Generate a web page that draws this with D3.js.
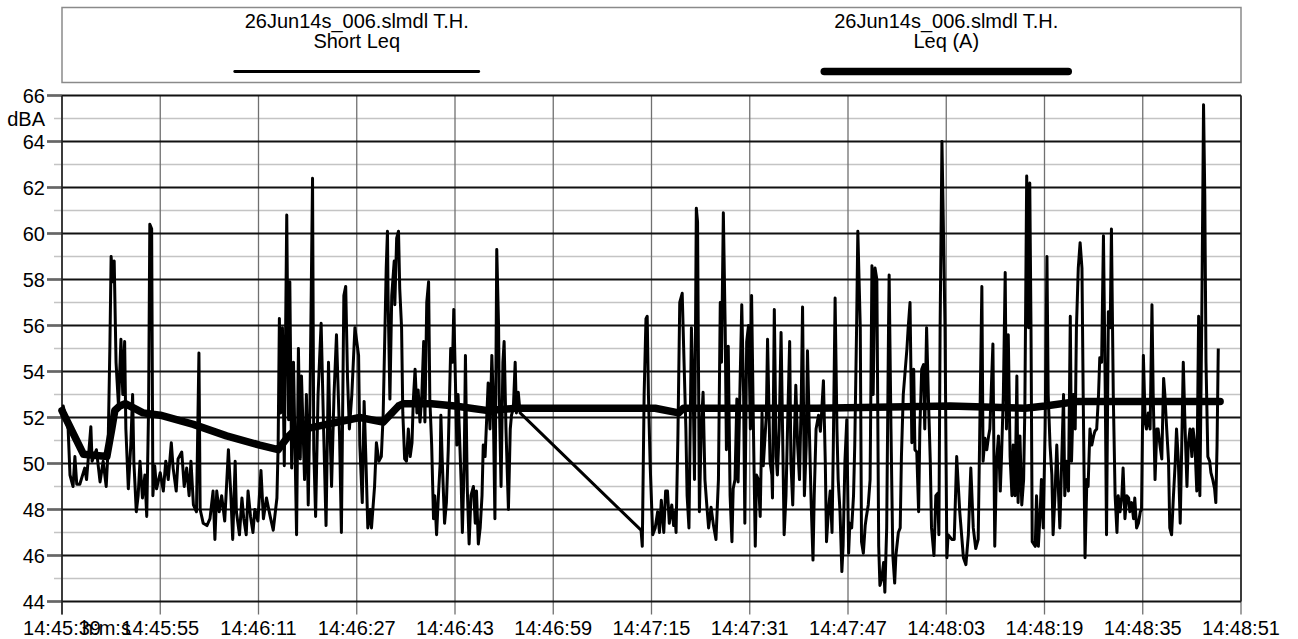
<!DOCTYPE html>
<html>
<head>
<meta charset="utf-8">
<script src="https://cdn.jsdelivr.net/npm/d3@7"></script>
<style>
  body { margin: 0; background: #fff; }
  svg { display: block; font-family: Arial, "Liberation Sans", sans-serif; }
</style>
</head>
<body>
<svg id="chart" width="1298" height="639"></svg>
<script>
// seconds after 14:45:39, Short Leq samples (dBA)
const shortT = [0.0, 0.2, 1.0, 1.3, 1.8, 2.1, 2.4, 2.9, 3.7, 4.0, 4.7, 4.9, 5.6, 6.2, 6.7, 7.2, 7.5, 7.8, 8.0, 8.3,
  8.5, 8.8, 9.2, 9.6, 9.9, 10.2, 10.4, 10.8, 11.2, 11.5, 11.7, 12.1, 12.4, 12.7, 13.1, 13.5, 13.8, 14.1, 14.3, 14.6,
  14.8, 15.1, 15.4, 16.0, 16.5, 16.9, 17.3, 17.8, 18.1, 18.6, 18.9, 19.5, 19.9, 20.3, 20.7, 21.0, 21.4, 21.9, 22.3, 22.5,
  23.0, 23.6, 24.1, 24.6, 24.9, 25.2, 25.6, 26.0, 26.5, 27.1, 27.5, 27.8, 28.2, 28.4, 28.9, 29.3, 29.6, 30.0, 30.3, 30.7,
  31.1, 31.4, 31.9, 32.4, 32.8, 33.3, 33.9, 34.4, 35.0, 35.2, 35.4, 35.6, 35.9, 36.2, 36.6, 36.9, 37.1, 37.4, 37.7, 38.2,
  38.5, 38.8, 39.0, 39.5, 39.8, 40.1, 40.4, 40.8, 41.0, 41.3, 41.7, 42.2, 42.6, 43.0, 43.4, 43.6, 43.9, 44.3, 44.7, 45.2,
  45.5, 45.9, 46.2, 46.5, 46.8, 47.2, 47.7, 48.3, 48.5, 48.9, 49.2, 49.5, 49.8, 50.2, 50.4, 50.9, 51.2, 51.6, 52.0, 52.3,
  52.8, 53.0, 53.1, 53.4, 53.7, 54.1, 54.2, 54.5, 54.8, 55.0, 55.3, 55.5, 55.8, 56.1, 56.4, 56.7, 57.0, 57.2, 57.5, 57.8,
  58.0, 58.3, 58.6, 58.9, 59.1, 59.4, 59.7, 59.9, 60.2, 60.5, 60.7, 61.0, 61.3, 61.6, 61.7, 61.9, 62.3, 62.6, 62.9, 63.3,
  63.6, 63.8, 64.0, 64.3, 64.5, 65.0, 65.2, 65.5, 65.7, 66.0, 66.3, 66.6, 67.0, 67.3, 67.5, 67.8, 68.1, 68.4, 68.6, 68.9,
  69.2, 69.4, 69.7, 70.0, 70.2, 70.5, 70.8, 71.1, 71.2, 71.5, 71.8, 72.0, 72.3, 72.7, 73.0, 73.2, 73.5, 73.8, 74.0, 74.3,
  74.6, 94.3, 94.5, 94.8, 95.1, 95.3, 95.5, 95.8, 96.2, 96.6, 97.0, 97.3, 97.6, 98.0, 98.3, 98.6, 98.9, 99.3, 99.6, 99.8,
  100.0, 100.3, 100.6, 101.0, 101.3, 101.6, 101.8, 102.1, 102.3, 102.5, 102.8, 103.0, 103.3, 103.5, 103.8, 104.1, 104.4, 104.7, 105.0, 105.3,
  105.7, 106.1, 106.5, 106.9, 107.2, 107.4, 107.7, 108.0, 108.2, 108.5, 108.8, 109.1, 109.3, 109.6, 109.9, 110.1, 110.4, 110.7, 111.0, 111.2,
  111.5, 111.8, 112.1, 112.3, 112.6, 112.9, 113.1, 113.4, 113.7, 114.0, 114.2, 114.7, 114.9, 115.3, 115.6, 115.7, 116.0, 116.3, 116.5, 116.8,
  117.1, 117.4, 117.6, 117.9, 118.2, 118.5, 118.7, 119.0, 119.3, 119.5, 119.8, 120.1, 120.4, 120.6, 120.9, 121.2, 121.4, 121.7, 122.0, 122.3,
  122.5, 122.8, 123.2, 123.5, 123.7, 124.0, 124.3, 124.5, 124.8, 125.1, 125.4, 125.6, 125.9, 126.2, 126.4, 126.7, 127.0, 127.2, 127.5, 127.8,
  128.1, 128.3, 128.6, 128.9, 129.1, 129.4, 129.6, 130.0, 130.2, 130.5, 130.8, 131.0, 131.3, 131.6, 131.9, 132.1, 132.4, 132.7, 133.0, 133.2,
  133.5, 133.8, 134.0, 134.3, 134.6, 134.7, 135.0, 135.3, 135.6, 135.8, 136.2, 136.5, 136.7, 137.0, 137.3, 137.6, 137.8, 138.1, 138.4, 138.7,
  138.9, 139.2, 139.5, 139.7, 140.0, 140.3, 140.5, 140.8, 141.1, 141.4, 141.6, 142.0, 142.3, 142.6, 142.8, 143.0, 143.3, 143.5, 143.8, 144.1,
  144.3, 144.9, 145.3, 145.7, 146.2, 146.8, 147.2, 147.6, 148.0, 148.4, 148.8, 149.2, 149.8, 150.0, 150.3, 150.6, 150.9, 151.1, 151.6, 151.9,
  152.2, 152.5, 152.8, 153.0, 153.3, 153.6, 153.8, 154.1, 154.4, 154.7, 154.9, 155.2, 155.5, 155.7, 156.0, 156.3, 156.6, 156.8, 157.1, 157.4,
  157.6, 157.8, 158.0, 158.5, 158.7, 159.0, 159.3, 159.5, 159.8, 160.1, 160.4, 160.6, 160.9, 161.2, 161.4, 161.7, 162.0, 162.3, 162.5, 162.8,
  163.1, 163.3, 163.6, 163.9, 164.2, 164.4, 164.7, 165.0, 165.2, 165.5, 165.8, 166.1, 166.3, 166.6, 166.9, 167.1, 167.4, 167.7, 168.0, 168.2,
  168.5, 168.8, 169.0, 169.3, 169.6, 169.9, 170.1, 170.4, 170.7, 170.9, 171.2, 171.5, 171.8, 172.0, 172.3, 172.6, 172.8, 173.1, 173.4, 173.7,
  173.9, 174.2, 174.5, 174.7, 175.0, 175.3, 175.6, 175.8, 176.1, 176.4, 176.6, 176.9, 177.2, 177.5, 177.7, 178.0, 178.3, 178.5, 178.8, 179.1,
  179.4, 179.6, 179.9, 180.2, 180.4, 180.7, 181.0, 181.3, 181.5, 181.8, 182.1, 182.3, 182.6, 182.9, 183.2, 183.4, 183.7, 184.0, 184.2, 184.5,
  184.8, 185.1, 185.3, 185.6, 185.9, 186.1, 186.3, 186.6, 186.9, 187.1, 187.4, 187.7, 187.9, 188.1, 188.3];
const shortV = [52.0, 52.5, 51.5, 49.5, 49.0, 50.3, 49.1, 49.1, 49.8, 49.3, 51.6, 50.1, 50.6, 49.2, 50.1, 49.0, 50.6, 55.1, 59.0, 57.9,
  58.8, 54.4, 52.5, 55.4, 53.0, 55.3, 51.5, 48.9, 50.8, 53.0, 50.1, 47.9, 48.6, 50.1, 48.5, 49.5, 47.7, 52.4, 60.4, 60.2,
  48.6, 49.9, 48.9, 49.6, 48.8, 50.1, 49.3, 50.9, 49.8, 48.8, 50.2, 50.5, 49.0, 49.8, 48.6, 50.1, 48.2, 47.9, 54.8, 48.0,
  47.4, 47.3, 47.6, 48.8, 46.7, 48.8, 47.9, 48.6, 47.5, 50.6, 48.6, 46.7, 50.1, 47.9, 46.9, 48.5, 47.6, 46.9, 48.8, 47.7,
  47.0, 48.0, 47.5, 49.7, 47.6, 48.5, 47.7, 47.1, 48.5, 50.8, 56.3, 52.2, 55.9, 49.9, 60.8, 51.9, 57.9, 49.8, 54.4, 46.9,
  55.0, 50.2, 53.8, 49.3, 53.0, 48.2, 53.0, 62.4, 50.6, 47.7, 53.0, 56.1, 51.5, 47.3, 54.4, 51.9, 49.0, 53.0, 55.6, 51.2,
  47.0, 57.3, 57.7, 53.7, 51.5, 53.0, 55.9, 54.7, 50.8, 48.3, 52.7, 50.1, 47.2, 48.0, 47.2, 49.0, 50.9, 50.1, 50.3, 52.1,
  58.5, 60.1, 57.3, 52.8, 57.3, 58.8, 56.9, 59.8, 60.1, 57.6, 55.9, 52.2, 50.2, 50.1, 51.5, 50.3, 50.9, 52.7, 54.1, 52.2,
  53.2, 51.8, 53.0, 55.3, 51.8, 57.0, 57.9, 52.8, 50.8, 47.6, 48.6, 46.9, 48.6, 50.1, 52.1, 50.3, 47.4, 48.3, 50.6, 55.0,
  54.4, 56.7, 54.4, 50.8, 53.0, 49.2, 47.0, 50.1, 54.7, 48.9, 46.5, 48.6, 49.0, 47.4, 48.8, 46.5, 47.2, 48.6, 50.8, 50.3,
  52.2, 53.5, 51.5, 54.7, 53.0, 47.6, 59.3, 55.9, 53.0, 49.0, 54.4, 55.3, 51.5, 48.0, 51.5, 52.1, 52.4, 54.4, 52.2, 53.1,
  52.2, 47.1, 46.4, 53.0, 56.3, 56.4, 53.0, 49.8, 46.9, 47.2, 47.9, 47.0, 48.4, 47.0, 48.8, 48.8, 47.4, 48.2, 47.3, 47.9,
  47.0, 51.2, 57.0, 57.4, 54.4, 51.5, 48.6, 47.2, 51.5, 55.9, 53.0, 49.3, 61.1, 60.5, 47.9, 51.5, 53.1, 49.3, 48.2, 47.2,
  48.1, 47.3, 46.7, 49.3, 57.0, 54.4, 60.9, 55.9, 50.6, 55.1, 48.6, 46.6, 48.9, 49.3, 52.8, 49.2, 53.2, 56.9, 53.0, 47.4,
  55.3, 56.0, 51.5, 57.3, 51.5, 46.4, 49.5, 49.3, 47.7, 52.2, 49.9, 52.1, 55.4, 50.1, 49.5, 48.5, 56.7, 50.3, 49.5, 51.5,
  55.7, 50.5, 46.9, 48.6, 52.1, 55.3, 50.1, 48.2, 51.5, 53.4, 50.8, 49.3, 53.0, 56.8, 48.6, 50.8, 54.9, 51.5, 48.3, 45.8,
  48.6, 51.5, 52.1, 51.4, 52.2, 53.6, 50.1, 46.6, 47.9, 48.8, 47.0, 50.6, 57.2, 51.5, 49.3, 47.9, 45.3, 46.4, 50.1, 51.9,
  46.1, 47.4, 47.2, 48.6, 50.8, 55.9, 60.1, 55.9, 46.6, 46.1, 47.3, 47.7, 48.2, 49.3, 58.6, 53.0, 58.5, 58.0, 46.4, 44.7,
  45.0, 45.7, 44.4, 47.2, 55.9, 58.2, 51.5, 46.0, 44.8, 46.0, 47.0, 47.2, 50.3, 53.0, 54.0, 55.0, 55.9, 57.0, 50.9, 54.1,
  50.6, 50.5, 47.9, 51.5, 54.1, 54.3, 51.5, 55.9, 52.8, 50.1, 47.2, 46.0, 48.6, 48.7, 46.9, 55.9, 64.0, 60.8, 55.9, 45.9,
  46.9, 46.7, 46.7, 50.3, 47.9, 45.9, 45.6, 46.9, 49.8, 47.2, 46.3, 46.7, 57.7, 50.1, 51.1, 50.6, 51.2, 51.5, 55.2, 46.4,
  50.1, 51.2, 48.8, 50.3, 53.0, 58.3, 51.5, 55.6, 50.3, 48.6, 50.8, 48.6, 53.8, 48.3, 51.2, 48.2, 49.3, 52.4, 62.5, 55.9,
  62.2, 55.9, 46.6, 46.4, 48.6, 46.4, 47.9, 49.3, 47.2, 51.5, 59.0, 53.0, 50.8, 49.5, 46.9, 48.6, 50.8, 48.6, 47.2, 50.1,
  53.0, 48.6, 50.1, 48.8, 56.4, 50.1, 53.0, 51.5, 55.9, 58.5, 59.6, 58.5, 53.0, 45.9, 49.3, 49.0, 51.5, 50.8, 51.2, 51.4,
  51.5, 53.0, 54.6, 54.4, 59.9, 53.0, 46.9, 56.6, 55.9, 60.2, 53.0, 48.6, 47.0, 48.6, 47.9, 48.6, 49.8, 47.6, 48.6, 48.5,
  47.9, 48.3, 47.6, 48.5, 47.2, 47.4, 47.9, 48.0, 54.7, 51.8, 51.5, 52.2, 51.5, 56.9, 53.0, 49.3, 51.5, 51.5, 50.8, 50.2,
  53.7, 53.0, 51.5, 50.1, 47.2, 46.9, 48.6, 50.1, 51.5, 50.1, 47.4, 50.1, 54.4, 51.5, 49.0, 50.8, 51.5, 50.3, 51.5, 50.8,
  48.8, 56.4, 48.6, 55.9, 65.6, 61.7, 54.4, 50.3, 50.1, 49.6, 49.3, 48.9, 48.3, 50.8, 55.0];

// running Leq (A)
const leqT = [0.0, 3.5, 7.3, 8.1, 8.6, 9.4, 10.3, 13.2, 16.0, 21.4, 26.8, 32.2, 35.2, 36.6, 37.7, 43.1, 48.5, 52.3, 54.8, 55.6,
  60.2, 64.0, 69.4, 73.8, 96.6, 100.4, 101.2, 106.6, 122.9, 144.6, 156.8, 160.1, 165.5, 171.0, 176.4, 185.6, 188.6];
const leqV = [52.3, 50.4, 50.3, 51.5, 52.3, 52.5, 52.6, 52.2, 52.1, 51.7, 51.2, 50.8, 50.6, 51.1, 51.4, 51.7, 52.0, 51.8, 52.5, 52.6,
  52.6, 52.5, 52.3, 52.4, 52.4, 52.2, 52.4, 52.4, 52.4, 52.5, 52.4, 52.5, 52.7, 52.7, 52.7, 52.7, 52.7];

const startTime = '14:45:39';
const spanSec = 192;
const tickStep = 16;
const yMajor = [44, 46, 48, 50, 52, 54, 56, 58, 60, 62, 64, 66];
const yMinor = [45, 47, 49, 51, 53, 55, 57, 59, 61, 63, 65];
const yUnit = 'dBA';
const xUnit = 'h:m:s';
const legendEntries = [
  { name: '26Jun14s_006.slmdl T.H.', series: 'Short Leq', width: 2.8 },
  { name: '26Jun14s_006.slmdl T.H.', series: 'Leq (A)', width: 7.5 },
];

const margin = { left: 62, right: 57, top: 95.5, bottom: 37.5 };
const W = 1298, H = 639;
const iw = W - margin.left - margin.right;
const ih = H - margin.top - margin.bottom;

const parse = d3.timeParse('%H:%M:%S');
const t0 = parse(startTime);
const at = s => new Date(t0.getTime() + s * 1000);

const x = d3.scaleTime().domain([t0, at(spanSec)]).range([0, iw]);
const y = d3.scaleLinear().domain([44, 66]).range([ih, 0]);

const svg = d3.select('#chart');

// legend box
const lg = svg.append('g');
lg.append('rect')
  .attr('x', margin.left).attr('y', 7.5)
  .attr('width', iw).attr('height', 75)
  .attr('fill', 'none').attr('stroke', '#8a8a8a').attr('stroke-width', 1.5);

legendEntries.forEach((e, i) => {
  const cx = margin.left + iw * (i * 2 + 1) / 4;
  lg.append('text').attr('x', cx).attr('y', 27.6)
    .attr('text-anchor', 'middle').attr('font-size', 20).text(e.name);
  lg.append('text').attr('x', cx).attr('y', 47.6)
    .attr('text-anchor', 'middle').attr('font-size', 20).text(e.series);
  lg.append('line')
    .attr('x1', cx - 122).attr('x2', cx + 122)
    .attr('y1', 71.5).attr('y2', 71.5)
    .attr('stroke', '#000').attr('stroke-width', e.width)
    .attr('stroke-linecap', 'round');
});

const g = svg.append('g').attr('transform', `translate(${margin.left},${margin.top})`);

// horizontal grid
g.selectAll('.minor').data(yMinor).join('line')
  .attr('x1', -8).attr('x2', iw)
  .attr('y1', d => y(d)).attr('y2', d => y(d))
  .attr('stroke', '#c4c4c4').attr('stroke-width', 1.3);

// vertical grid + ticks
const xTicks = d3.range(0, spanSec + 1, tickStep).map(at);
g.selectAll('.vgrid').data(xTicks).join('line')
  .attr('x1', d => x(d)).attr('x2', d => x(d))
  .attr('y1', 0).attr('y2', ih + 13)
  .attr('stroke', '#707070').attr('stroke-width', 1.3);

g.selectAll('.major').data(yMajor).join('line')
  .attr('x1', -15).attr('x2', iw)
  .attr('y1', d => y(d)).attr('y2', d => y(d))
  .attr('stroke', '#111').attr('stroke-width', 1.8);

// tick stubs a bit lighter than the grid
g.selectAll('.ystub').data(yMajor).join('line')
  .attr('x1', -15).attr('x2', 0)
  .attr('y1', d => y(d)).attr('y2', d => y(d))
  .attr('stroke', '#666').attr('stroke-width', 1.6);

// frame
g.append('line').attr('x1', 0).attr('x2', 0).attr('y1', 0).attr('y2', ih + 13)
  .attr('stroke', '#222').attr('stroke-width', 1.6);
g.append('line').attr('x1', iw).attr('x2', iw).attr('y1', 0).attr('y2', ih)
  .attr('stroke', '#222').attr('stroke-width', 1.6);

// y labels
g.selectAll('.ylab').data(yMajor).join('text')
  .attr('x', -17).attr('y', d => y(d)).attr('dy', '0.36em')
  .attr('text-anchor', 'end').attr('font-size', 20)
  .text(d => d);
g.append('text').attr('x', -17).attr('y', y(65)).attr('dy', '0.36em')
  .attr('text-anchor', 'end').attr('font-size', 20).text(yUnit);

// x labels (the unit label overlaps the first one, as in the source)
const fmt = d3.timeFormat('%H:%M:%S');
g.selectAll('.xlab').data(xTicks).join('text')
  .attr('x', d => x(d)).attr('y', ih + 33.5)
  .attr('text-anchor', 'middle').attr('font-size', 20)
  .text(d => fmt(d));
g.append('text').attr('x', 20).attr('y', ih + 33.5)
  .attr('font-size', 20).text(xUnit);

// series
const shortData = shortT.map((t, i) => ({ t: at(t), v: shortV[i] }));
const leqData = leqT.map((t, i) => ({ t: at(t), v: leqV[i] }));
const line = d3.line().x(d => x(d.t)).y(d => y(d.v));

g.append('path').datum(shortData)
  .attr('d', line)
  .attr('fill', 'none').attr('stroke', '#000')
  .attr('stroke-width', 3).attr('stroke-linejoin', 'round');

g.append('path').datum(leqData)
  .attr('d', line)
  .attr('fill', 'none').attr('stroke', '#000')
  .attr('stroke-width', 7.5).attr('stroke-linejoin', 'round').attr('stroke-linecap', 'round');
</script>
</body>
</html>
